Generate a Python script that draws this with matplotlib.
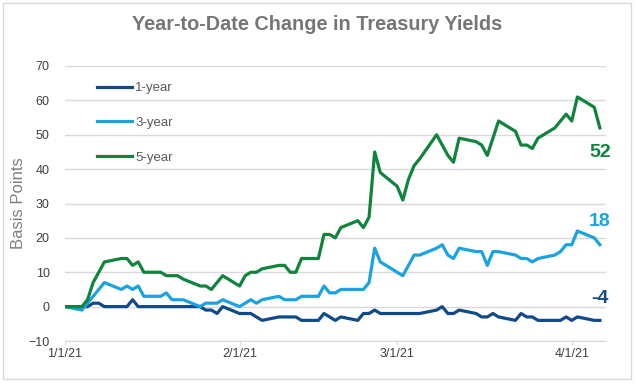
import matplotlib
matplotlib.use('Agg')
import matplotlib.pyplot as plt
import pandas as pd
from matplotlib import font_manager

# one value per weekday, 1/1/21 .. 4/6/21 (holidays carried forward), in basis points
dates = pd.bdate_range('2021-01-01', '2021-04-06')

one_year = [
    0,
    0, 0, 1, 1, 0,
    0, 0, 2, 0, 0,
    0, 0, 0, 0, 0,
    0, -1, -1, -2, 0,
    -2, -2, -2, -3, -4,
    -3, -3, -3, -3, -4,
    -4, -2, -3, -4, -3,
    -4, -2, -2, -1, -2,
    -2, -2, -2, -2, -2,
    -1, 0, -2, -2, -1,
    -2, -3, -3, -2, -3,
    -4, -2, -3, -3, -4,
    -4, -4, -3, -4, -3,
    -4, -4,
]
three_year = [
    0,
    -1, 1, 3, 5, 7,
    5, 6, 5, 6, 3,
    3, 4, 2, 2, 2,
    0, 1, 1, 1, 2,
    0, 1, 2, 1, 2,
    3, 2, 2, 2, 3,
    3, 6, 4, 4, 5,
    5, 5, 7, 17, 13,
    10, 9, 12, 15, 15,
    17, 18, 15, 14, 17,
    16, 16, 12, 16, 16,
    15, 14, 14, 13, 14,
    15, 16, 18, 18, 22,
    20, 18,
]
five_year = [
    0,
    0, 2, 7, 10, 13,
    14, 14, 12, 13, 10,
    10, 9, 9, 9, 8,
    6, 6, 5, 7, 9,
    6, 9, 10, 10, 11,
    12, 12, 10, 10, 14,
    14, 21, 21, 20, 23,
    25, 23, 26, 45, 39,
    35, 31, 37, 41, 43,
    50, 47, 44, 42, 49,
    48, 47, 44, 49, 54,
    51, 47, 47, 46, 49,
    52, 54, 56, 54, 61,
    58, 52,
]

series_labels = ['1-year', '3-year', '5-year']
series_colors = ['#114a8b', '#1ba3e0', '#10843d']
xtick_dates = ['2021-01-01', '2021-02-01', '2021-03-01', '2021-04-01']
xtick_labels = ['1/1/21', '2/1/21', '3/1/21', '4/1/21']

plt.rcParams['font.family'] = ['Liberation Sans', 'DejaVu Sans']
installed = {f.name for f in font_manager.fontManager.ttflist}
narrow = 'Liberation Sans Narrow' if 'Liberation Sans Narrow' in installed else 'Liberation Sans'

fig = plt.figure(figsize=(6.35, 3.83), dpi=100)
ax = fig.add_axes([65 / 635, 42 / 383, 541 / 635, 275 / 383])

all_series = [one_year, three_year, five_year]
for values, label, color in zip(all_series, series_labels, series_colors):
    ax.plot(dates, values, color=color, lw=2.3, label=label, solid_joinstyle='round')

# end-of-period labels
label_offsets = [16, 17, -18]
for values, color, dy in zip(all_series, series_colors, label_offsets):
    ax.annotate(f'{values[-1]}', xy=(dates[-1], values[-1]), xytext=(0, dy),
                textcoords='offset points', ha='center', va='center',
                fontsize=14, fontweight='bold', color=color, family=[narrow, 'DejaVu Sans'])

ax.set_ylim(-10, 70)
ax.set_yticks(range(-10, 71, 10))
ax.set_xlim(pd.Timestamp('2021-01-01'), pd.Timestamp('2021-04-07 02:00'))
ax.set_xticks(pd.to_datetime(xtick_dates))
ax.set_xticklabels(xtick_labels)

ax.grid(axis='y', color='#d9d9d9', lw=1)
ax.set_axisbelow(True)
for side in ['top', 'right', 'left']:
    ax.spines[side].set_visible(False)
ax.spines['bottom'].set_color('#d9d9d9')
ax.tick_params(axis='y', length=0, pad=11, labelsize=9, labelcolor='#404040')
ax.tick_params(axis='x', length=3, color='#d9d9d9', pad=2, labelsize=9, labelcolor='#404040')

ax.legend(loc='upper left', bbox_to_anchor=(0.059, 0.942), frameon=False, fontsize=9.5,
          labelcolor='#595959', handlelength=2.65, handletextpad=0.25, labelspacing=1.7,
          borderpad=0, borderaxespad=0)

fig.text(0.5, 1 - 25 / 383, 'Year-to-Date Change in Treasury Yields', ha='center', va='center',
         fontsize=14.3, fontweight='bold', color='#767676')
fig.text(19 / 635, 1 - 203 / 383, 'Basis Points', rotation=90, ha='center', va='center',
         fontsize=12, color='#7f7f7f')

fig.add_artist(plt.Rectangle((3 / 635, 4 / 383), 628 / 635, 376 / 383, transform=fig.transFigure,
                             fill=False, edgecolor='#d9d9d9', lw=1))

fig.savefig('out.png', dpi=100)
